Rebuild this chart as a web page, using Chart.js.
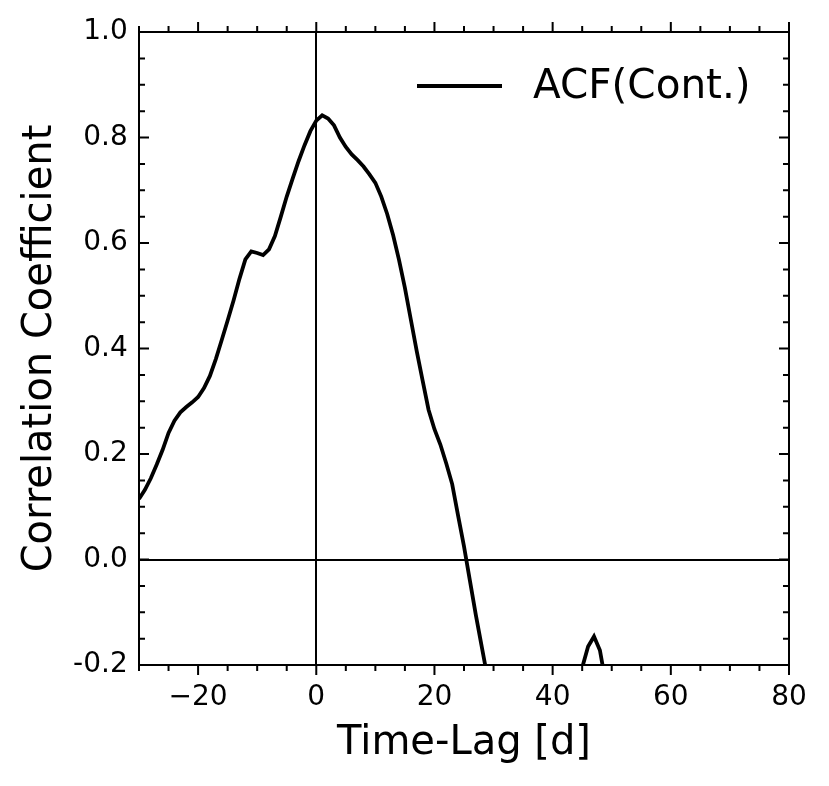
<!DOCTYPE html>
<html><head><meta charset="utf-8">
<script src="https://cdn.jsdelivr.net/npm/chart.js@4"></script>
<style>html,body{margin:0;padding:0;background:#fff}#wrap{width:829px;height:786px}</style>
</head><body><div id="wrap"><canvas id="c" width="829" height="786"></canvas></div>
<script>
// ---- data ----
const seriesLabel = 'ACF(Cont.)';
const lagDays = [-30,-29,-28,-27,-26,-25,-24,-23,-22,-21,-20,-19,-18,-17,-16,-15,-14,-13,-12,-11,-10,-9,-8,-7,-6,-5,-4,-3,-2,-1,0,1,2,3,4,5,6,7,8,9,10,11,12,13,14,15,16,17,18,19,20,21,22,23,24,25,26,27,28,29,30,32,35,38,41,43,44,45,46,47,48,49,50];
const acfValues = [0.115,0.132,0.154,0.180,0.208,0.240,0.263,0.279,0.289,0.298,0.308,0.325,0.348,0.380,0.416,0.453,0.491,0.532,0.569,0.584,0.581,0.577,0.588,0.613,0.650,0.688,0.722,0.755,0.785,0.812,0.832,0.842,0.836,0.823,0.800,0.782,0.768,0.757,0.745,0.730,0.714,0.688,0.655,0.615,0.568,0.515,0.455,0.395,0.339,0.284,0.247,0.218,0.182,0.143,0.083,0.025,-0.040,-0.105,-0.165,-0.225,-0.280,-0.360,-0.420,-0.400,-0.330,-0.270,-0.235,-0.205,-0.165,-0.146,-0.172,-0.235,-0.290];
const xTickValues = [-20,0,20,40,60,80];
const xTickLabels = ['\u221220','0','20','40','60','80'];
const yTickValues = [-0.2,0.0,0.2,0.4,0.6,0.8,1.0];
const yTickLabels = ['-0.2','0.0','0.2','0.4','0.6','0.8','1.0'];
const xRange = [-30, 80];
const yRange = [-0.2, 1.0];
const xMinorStep = 5;
const yMinorStep = 0.05;
const xTitle = 'Time-Lag [d]';
const yTitle = 'Correlation Coefficient';

const FONT = "'DejaVu Sans', 'Liberation Sans', sans-serif";

const frame = {
  id: 'frame',
  beforeDatasetsDraw(chart) {
    const {ctx, chartArea: a, scales: {x, y}} = chart;
    ctx.save();
    ctx.strokeStyle = '#000';
    ctx.lineWidth = 2;
    const x0 = Math.round(x.getPixelForValue(0));
    const y0 = Math.round(y.getPixelForValue(0));
    ctx.beginPath();
    ctx.moveTo(x0, a.top); ctx.lineTo(x0, a.bottom);
    ctx.moveTo(a.left, y0); ctx.lineTo(a.right, y0);
    ctx.stroke();
    ctx.restore();
  },
  afterDraw(chart) {
    const {ctx, chartArea: a, scales: {x, y}} = chart;
    ctx.save();
    ctx.strokeStyle = '#000';
    ctx.lineWidth = 2;
    ctx.lineCap = 'butt';
    ctx.beginPath();
    for (let v = xRange[0]; v <= xRange[1] + 1e-9; v += xMinorStep) {
      const major = xTickValues.some(t => Math.abs(t - v) < 1e-9);
      const len = major ? 10 : 6;
      const px = x.getPixelForValue(v);
      ctx.moveTo(px, a.bottom); ctx.lineTo(px, a.bottom + len);
      ctx.moveTo(px, a.top); ctx.lineTo(px, a.top - len);
    }
    for (let i = 0; ; i++) {
      const v = yRange[0] + i * yMinorStep;
      if (v > yRange[1] + 1e-9) break;
      const major = yTickValues.some(t => Math.abs(t - v) < 1e-6);
      const len = major ? 10 : 6;
      const py = y.getPixelForValue(v);
      ctx.moveTo(a.left, py); ctx.lineTo(a.left + len, py);
      ctx.moveTo(a.right, py); ctx.lineTo(a.right - len, py);
    }
    ctx.stroke();
    ctx.strokeRect(a.left, a.top, a.right - a.left, a.bottom - a.top);
    // legend
    const ds = chart.data.datasets[0];
    ctx.lineWidth = 3.8;
    ctx.beginPath();
    ctx.moveTo(417, 86); ctx.lineTo(502, 86);
    ctx.stroke();
    ctx.fillStyle = '#000';
    ctx.font = '40.5px ' + FONT;
    ctx.textAlign = 'left';
    ctx.textBaseline = 'alphabetic';
    ctx.fillText(ds.label, 533, 98);
    ctx.restore();
  }
};

new Chart(document.getElementById('c'), {
  type: 'line',
  data: {
    datasets: [{
      label: seriesLabel,
      data: lagDays.map((d, i) => ({x: d, y: acfValues[i]})),
      borderColor: '#000',
      borderWidth: 3.8,
      pointRadius: 0,
      tension: 0,
      fill: false
    }]
  },
  options: {
    responsive: false,
    animation: false,
    devicePixelRatio: 1,
    layout: {padding: {left: 0, top: 32, right: 40, bottom: 0}},
    plugins: {legend: {display: false}, tooltip: {enabled: false}},
    scales: {
      x: {
        type: 'linear',
        min: xRange[0], max: xRange[1],
        border: {display: false},
        grid: {display: false, drawTicks: false},
        afterBuildTicks(s) { s.ticks = xTickValues.map(v => ({value: v})); },
        afterFit(s) { s.height = 121; },
        ticks: {
          color: '#000',
          padding: 16,
          maxRotation: 0,
          autoSkip: false,
          font: {family: FONT, size: 28},
          callback(v) { const i = xTickValues.indexOf(v); return i >= 0 ? xTickLabels[i] : ''; }
        },
        title: {
          display: true, text: xTitle, color: '#000',
          font: {family: FONT, size: 40},
          padding: {top: 0, bottom: 18}
        }
      },
      y: {
        type: 'linear',
        min: yRange[0], max: yRange[1],
        border: {display: false},
        grid: {display: false, drawTicks: false},
        afterBuildTicks(s) { s.ticks = yTickValues.map(v => ({value: v})); },
        afterFit(s) { s.width = 139; },
        ticks: {
          color: '#000',
          padding: 11.3,
          autoSkip: false,
          font: {family: FONT, size: 28},
          callback(v) {
            let best = 0, bd = Infinity;
            yTickValues.forEach((t, i) => { const d = Math.abs(t - v); if (d < bd) { bd = d; best = i; } });
            return yTickLabels[best];
          }
        },
        title: {
          display: true, text: yTitle, color: '#000',
          font: {family: FONT, size: 40},
          padding: {top: 17, bottom: 0}
        }
      }
    }
  },
  plugins: [frame]
});
</script>
</body></html>
